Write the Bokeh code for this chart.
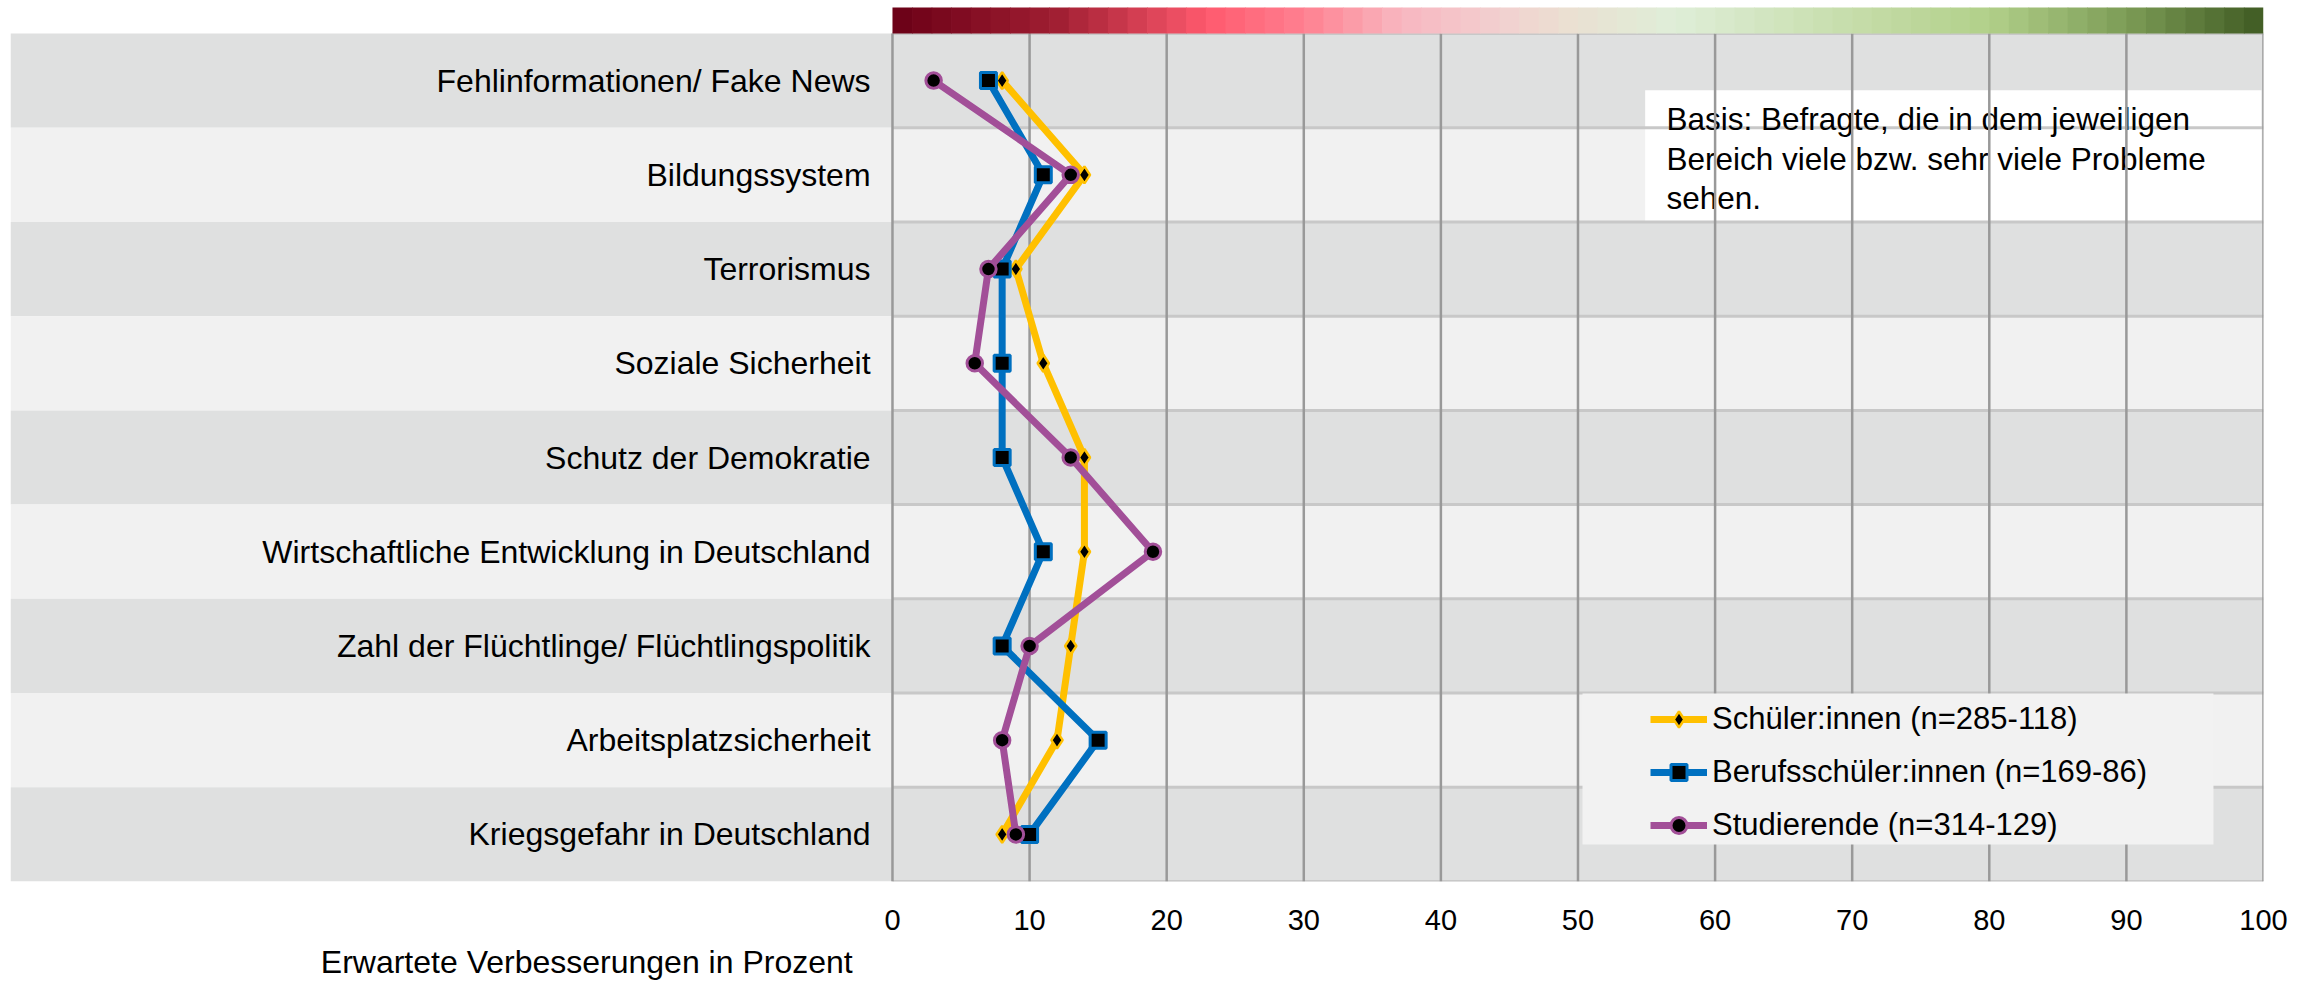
import numpy as np
from bokeh.plotting import figure
from bokeh.models import (Range1d, FixedTicker, LinearAxis, Legend, LegendItem,
                          ColumnDataSource)
from bokeh.core.properties import value
from bokeh.embed import file_html
from bokeh.resources import INLINE

# ---------------- data ----------------
categories = [
    "Fehlinformationen/ Fake News",
    "Bildungssystem",
    "Terrorismus",
    "Soziale Sicherheit",
    "Schutz der Demokratie",
    "Wirtschaftliche Entwicklung in Deutschland",
    "Zahl der Flüchtlinge/ Flüchtlingspolitik",
    "Arbeitsplatzsicherheit",
    "Kriegsgefahr in Deutschland",
]
schueler = [8, 14, 9, 11, 14, 14, 13, 12, 8]
berufsschueler = [7, 11, 8, 8, 8, 11, 8, 15, 10]
studierende = [3, 13, 7, 6, 13, 19, 10, 8, 9]
series_names = [
    "Schüler:innen (n=285-118)",
    "Berufsschüler:innen (n=169-86)",
    "Studierende (n=314-129)",
]
x_ticks = [0, 10, 20, 30, 40, 50, 60, 70, 80, 90, 100]
axis_title = "Erwartete Verbesserungen in Prozent"
note_lines = [
    "Basis: Befragte, die in dem jeweiligen",
    "Bereich viele bzw. sehr viele Probleme",
    "sehen.",
]

# ---------------- styling ----------------
FONT = "Liberation Sans"
colors = ["#FFC000", "#0070C0", "#A24F98"]
band_dark = "#DFE0E0"
band_light = "#F1F1F1"

n = len(categories)
y_centers = [n - 0.5 - i for i in range(n)]

X_LEFT = -64.33
p = figure(
    width=2315, height=986,
    x_range=Range1d(X_LEFT, 100), y_range=Range1d(0, 9.276),
    output_backend="svg", toolbar_location=None,
    min_border=0,
)
p.min_border_left = 10
p.min_border_right = 52
p.min_border_top = 7
p.min_border_bottom = 105
p.outline_line_color = None
p.background_fill_color = "white"
p.border_fill_color = "white"
p.xgrid.visible = False
p.ygrid.visible = False
p.yaxis.visible = False

# bands (alternating) across label area and plot area
band_cols = [band_dark if i % 2 == 0 else band_light for i in range(n)]
p.quad(left=X_LEFT, right=100,
       bottom=[c - 0.5 for c in y_centers], top=[c + 0.5 for c in y_centers],
       fill_color=band_cols, line_color=None)

# note box (white)
p.quad(left=54.9, right=99.85, bottom=7.0, top=8.397, fill_color="white", line_color=None)

# row separators
sep_y = list(range(0, n + 1))
p.segment(x0=0, x1=100, y0=sep_y, y1=sep_y, line_color="#C8C8C8", line_width=3)

# note text
note_y = [8.089, 7.670, 7.250]
p.text(x=[56.45] * 3, y=note_y, text=note_lines, text_font=value(FONT),
       text_font_size="31.5px", text_color="black", text_baseline="alphabetic",
       text_align="left")

# vertical grid lines
p.segment(x0=x_ticks, x1=x_ticks, y0=0, y1=n, line_color="#999999", line_width=2.5)

# gradient bar above the plot
stops = [
    (0.00, "#6A0016"), (0.12, "#A01E32"), (0.23, "#FF5A6E"), (0.30, "#FF8090"),
    (0.37, "#F8B6C0"), (0.44, "#F2CFCF"), (0.49, "#EBDFD2"), (0.57, "#DFEED8"),
    (0.70, "#C6DDAA"), (0.80, "#B2D08A"), (0.90, "#7C9C56"), (1.00, "#3F5A22"),
]
def hex2rgb(h):
    return np.array([int(h[i:i + 2], 16) for i in (1, 3, 5)], dtype=float)
sp = np.array([s[0] for s in stops])
sc = np.array([hex2rgb(s[1]) for s in stops])
nsteps = 70
g_left = np.linspace(0, 100, nsteps + 1)[:-1]
g_right = g_left + 100.0 / nsteps + 0.05
g_cols = []
for gl in g_left:
    t = (gl + 50.0 / nsteps) / 100.0
    rgb = [np.interp(t, sp, sc[:, k]) for k in range(3)]
    g_cols.append("#%02x%02x%02x" % tuple(int(round(v)) for v in rgb))
p.quad(left=g_left, right=np.minimum(g_right, 100), bottom=9.0, top=9.4,
       fill_color=g_cols, line_color=None)

# legend background box
p.quad(left=50.33, right=96.35, bottom=0.393, top=1.996, fill_color="#F2F2F2", line_color=None)

# row labels
p.text(x=[-1.6] * n, y=y_centers, text=categories, text_font=value(FONT),
       text_font_size="32px", text_color="black", text_align="right",
       text_baseline="middle")

# series
series_vals = [schueler, berufsschueler, studierende]
marker_specs = [
    dict(marker="diamond", size=17, line_width=2.5),
    dict(marker="square", size=16, line_width=3),
    dict(marker="circle", size=15.5, line_width=3),
]
items = []
for name, vals, col, ms in zip(series_names, series_vals, colors, marker_specs):
    src = ColumnDataSource(dict(x=vals, y=y_centers))
    lr = p.line("x", "y", source=src, line_color=col, line_width=7, line_join="round")
    sr = p.scatter("x", "y", source=src, marker=ms["marker"],
                   size=ms["size"], fill_color="black", line_color=col,
                   line_width=ms["line_width"])
    items.append(LegendItem(label=name, renderers=[lr, sr]))

legend = Legend(items=items, location=(1635, 31), margin=0, padding=5,
                glyph_width=57, glyph_height=40, label_height=40, label_standoff=5,
                spacing=13, background_fill_alpha=0, border_line_alpha=0,
                label_text_font=FONT, label_text_font_size="31px",
                label_text_color="black")
p.add_layout(legend, "center")

# x axis
p.xaxis.ticker = FixedTicker(ticks=x_ticks)
p.xaxis.axis_line_color = None
p.xaxis.major_tick_line_color = None
p.xaxis.minor_tick_line_color = None
p.xaxis.major_label_standoff = 22
p.xaxis.major_label_text_font = FONT
p.xaxis.major_label_text_font_size = "29px"
p.xaxis.major_label_text_color = "black"

# axis title: a second axis below, with one labelled position under the row labels
TITLE_X = -22.3
title_axis = LinearAxis(
    ticker=FixedTicker(ticks=[TITLE_X]),
    major_label_overrides={TITLE_X: axis_title},
    axis_line_color=None, major_tick_line_color=None, minor_tick_line_color=None,
    major_label_standoff=5, major_label_text_font=FONT,
    major_label_text_font_size="32px", major_label_text_color="black",
)
p.add_layout(title_axis, "below")

open("out.html", "w").write(file_html(p, INLINE))
